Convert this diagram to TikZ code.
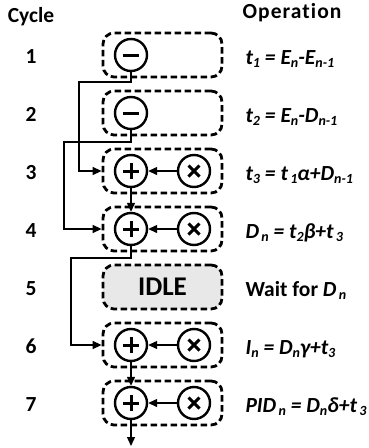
\documentclass[tikz,border=0pt]{standalone}
\usepackage{fontspec}
\setmainfont{Carlito}[RawFeature=-liga]
\usetikzlibrary{arrows.meta}
\newcommand{\lw}[1]{\raisebox{-0.35ex}{\fontsize{14}{14}\selectfont #1}}
\begin{document}
\begin{tikzpicture}[x=1pt,y=-1pt,
  font=\fontsize{21.5}{25}\selectfont\bfseries,
  stagebox/.style={draw, line width=2.8pt, dash pattern=on 6.5pt off 3.5pt, rounded corners=11pt,
    minimum width=119pt, minimum height=44pt, inner sep=0pt},
  op/.style={draw, circle, line width=2.4pt, minimum size=32pt, inner sep=0pt, fill=white},
  minusop/.style={op, path picture={\draw[line width=3pt]
      ([xshift=-8pt]path picture bounding box.center) -- ([xshift=8pt]path picture bounding box.center);}},
  plusop/.style={op, path picture={\draw[line width=3pt]
      ([xshift=-8pt]path picture bounding box.center) -- ([xshift=8pt]path picture bounding box.center)
      ([yshift=-8pt]path picture bounding box.center) -- ([yshift=8pt]path picture bounding box.center);}},
  timesop/.style={op, path picture={\draw[line width=3pt]
      ([xshift=-5.5pt,yshift=-5.5pt]path picture bounding box.center) -- ([xshift=5.5pt,yshift=5.5pt]path picture bounding box.center)
      ([xshift=-5.5pt,yshift=5.5pt]path picture bounding box.center) -- ([xshift=5.5pt,yshift=-5.5pt]path picture bounding box.center);}},
  conn/.style={line width=1.3pt, -{Triangle[length=9pt,width=8pt]}},
  num/.style={anchor=base},
  eq/.style={anchor=base west}
]
\useasboundingbox (0,0) rectangle (368,448);

% headers
\node[anchor=base] (cyc) at (31,22) {Cycle};
\node[anchor=base] (oper) at (292,18) {\addfontfeature{LetterSpace=5}Operation};

% boxes
\node[stagebox] (b1) at (162.5,55) {};
\node[stagebox] (b2) at (162.5,113) {};
\node[stagebox] (b3) at (162.5,171) {};
\node[stagebox] (b4) at (162.5,229) {};
\node[stagebox, fill=black!9, font=\fontsize{27}{30}\selectfont\bfseries] (b5) at (162.5,287) {IDLE};
\node[stagebox] (b6) at (162.5,345) {};
\node[stagebox] (b7) at (162.5,403) {};

% operators
\node[minusop] (m1) at (131,55) {};
\node[minusop] (m2) at (131,113) {};
\node[plusop] (p3) at (131,171) {};
\node[timesop] (x3) at (194,171) {};
\node[plusop] (p4) at (131,229) {};
\node[timesop] (x4) at (194,229) {};
\node[plusop] (p6) at (131,345) {};
\node[timesop] (x6) at (194,345) {};
\node[plusop] (p7) at (131,403) {};
\node[timesop] (x7) at (194,403) {};

% connectors
\draw[conn] (x3.west) -- (p3.east);
\draw[conn] (x4.west) -- (p4.east);
\draw[conn] (x6.west) -- (p6.east);
\draw[conn] (x7.west) -- (p7.east);
\draw[conn] (p3.south) -- (p4.north);
\draw[conn] (p6.south) -- (p7.north);
\coordinate (out) at (131,446);
\draw[conn] (p7.south) -- (out);
\draw[conn] (m1.south) -- (131,82) -- (79,82) |- (b3.west);
\draw[conn] (m2.south) -- (131,142) -- (64,142) |- (b4.west);
\draw[conn] (p4.south) -- (131,258) -- (71,258) |- (b6.west);

% cycle numbers
\node[num] (n1) at (31,63) {1};
\node[num] (n2) at (31,121) {2};
\node[num] (n3) at (31,179) {3};
\node[num] (n4) at (31,237) {4};
\node[num] (n5) at (31,295) {5};
\node[num] (n6) at (31,353) {6};
\node[num] (n7) at (31,411) {7};

% operations
\node[eq] (e1) at (242,64) {\itshape t\lw{1} = E\lw{n}-E\lw{n-1}};
\node[eq] (e2) at (242,122) {\itshape t\lw{2} = E\lw{n}-D\lw{n-1}};
\node[eq] (e3) at (242,180) {\itshape t\lw{3} = t\lw{\,1}α+D\lw{n-1}};
\node[eq] (e4) at (242,238) {\itshape D\lw{\,n} = t\lw{2}β+t\lw{\,3}};
\node[eq] (e5) at (242,296) {Wait for {\itshape D\lw{\,n}}};
\node[eq] (e6) at (242,354) {\itshape I\lw{n} = D\lw{n}γ+t\lw{3}};
\node[eq] (e7) at (242,412) {\itshape PID\lw{\,n} = D\lw{n}δ+t\lw{\,3}};
\end{tikzpicture}
\end{document}
